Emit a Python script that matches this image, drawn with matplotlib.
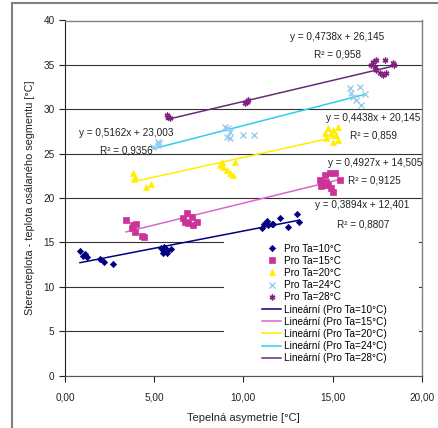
import numpy as np
import matplotlib as mpl
mpl.use('Agg')
import matplotlib.pyplot as plt
from matplotlib.lines import Line2D
from matplotlib.patches import Rectangle
from matplotlib.ticker import FuncFormatter, MultipleLocator

plt.rcParams['font.family'] = ['Liberation Sans', 'DejaVu Sans']
fs = 7.2

# ==== data ====
labels = ['Pro Ta=10°C', 'Pro Ta=15°C', 'Pro Ta=20°C', 'Pro Ta=24°C', 'Pro Ta=28°C']

x10 = [0.84, 1.12, 1.03, 1.25, 1.96, 2.20, 2.71, 5.36, 5.56, 5.70, 5.47, 5.73, 5.92, 5.60, 5.50,
       11.02, 11.17, 11.30, 11.39, 11.58, 11.67, 12.04, 12.51, 13.01, 13.12]
y10 = [14.04, 13.67, 13.48, 13.33, 13.10, 12.84, 12.58, 14.35, 14.46, 14.15, 13.85, 13.85, 14.23, 14.00, 14.20,
       16.67, 17.08, 17.46, 16.97, 17.08, 17.05, 17.80, 16.71, 18.17, 17.27]

x15 = [3.42, 3.83, 3.98, 3.74, 3.92, 4.29, 4.43, 6.63, 6.82, 7.10, 7.38, 7.19, 6.91, 6.72,
       14.29, 14.47, 14.57, 14.66, 14.75, 14.85, 14.94, 15.13, 15.41, 14.38, 15.03]
y15 = [17.53, 16.97, 17.08, 16.60, 16.15, 15.73, 15.66, 17.72, 18.29, 17.90, 17.34, 16.97, 17.16, 17.34,
       22.04, 21.48, 22.60, 21.85, 21.48, 22.79, 21.10, 22.80, 22.04, 21.36, 20.72]

x20 = [3.83, 3.92, 3.88, 4.54, 4.82, 8.68, 8.78, 8.87, 9.06, 9.24, 9.43, 9.52,
       14.57, 14.66, 14.75, 14.94, 15.03, 15.03, 15.22, 15.31, 15.31]
y20 = [22.79, 22.41, 22.10, 21.21, 21.55, 23.73, 24.10, 23.54, 23.16, 22.79, 22.60, 24.10,
       27.30, 26.73, 27.86, 27.30, 27.67, 26.35, 27.10, 28.04, 26.54]

x24 = [4.95, 5.20, 5.23, 5.25, 8.96, 9.15, 9.24, 9.06, 9.24, 9.99, 10.60,
       15.97, 16.53, 16.06, 16.15, 16.34, 16.62, 16.80]
y24 = [25.75, 25.95, 26.35, 26.15, 28.04, 27.86, 27.48, 26.91, 26.80, 27.05, 27.10,
       32.36, 32.54, 31.80, 31.42, 31.05, 30.48, 31.70]

x28 = [5.70, 5.88, 5.75, 10.08, 10.18, 10.27, 17.18, 17.27, 17.37, 17.46, 17.46, 17.65, 17.83, 17.93, 18.02, 18.39, 18.45]
y28 = [29.36, 28.98, 29.15, 30.67, 30.86, 31.05, 34.99, 35.36, 34.80, 35.55, 34.43, 34.05, 33.86, 35.55, 34.05, 35.18, 34.95]

# trendline coefficients as printed on the chart
slopes = [0.3894, 0.4927, 0.4438, 0.5162, 0.4738]
intercepts = [12.401, 14.505, 20.145, 23.003, 26.145]
eq_text = ['y = 0,3894x + 12,401', 'y = 0,4927x + 14,505', 'y = 0,4438x + 20,145',
           'y = 0,5162x + 23,003', 'y = 0,4738x + 26,145']
r2_text = ['R² = 0,8807', 'R² = 0,9125', 'R² = 0,859', 'R² = 0,9356', 'R² = 0,958']
# label positions (data coords)
eq_pos = [(16.67, 19.22), (17.37, 23.95), (17.28, 29.0), (3.45, 27.37), (15.28, 38.14)]
r2_pos = [(16.72, 17.08), (17.37, 21.93), (17.28, 27.0), (3.45, 25.4), (15.28, 36.2)]

xs = [x10, x15, x20, x24, x28]
ys = [y10, y15, y20, y24, y28]

mcol = ['#000080', '#CC3399', '#FFEE00', '#99CCEE', '#802080']
lcol = ['#000080', '#DD66CC', '#FFEE00', '#33CCEE', '#6A2A7A']
marks = ['D', 's', '^', 'x', (6, 2, 0)]
msize = [3.2, 3.8, 4.2, 3.8, 4.2]

# ==== plot ====
fig = plt.figure(figsize=(4.39, 4.28), dpi=100)
ax = fig.add_axes([65/439, 1-375.7/428, 356.7/439, 355.2/428])

for i in range(5):
  ax.plot(xs[i], ys[i], linestyle='none', marker=marks[i], markersize=msize[i],
          color=mcol[i], markeredgewidth=1.0 if i >= 3 else 0.5, label=labels[i], zorder=3)

for i in range(5):
  xl = np.array([min(xs[i]), max(xs[i])])
  ax.plot(xl, slopes[i]*xl + intercepts[i], color=lcol[i], lw=1.1,
          label='Lineární (' + labels[i] + ')', zorder=2)

for i in range(5):
  ax.text(eq_pos[i][0], eq_pos[i][1], eq_text[i], fontsize=fs, ha='center', va='center', color='#222222')
  ax.text(r2_pos[i][0], r2_pos[i][1], r2_text[i], fontsize=fs, ha='center', va='center', color='#222222')

ax.set_xlim(0, 20)
ax.set_ylim(0, 40)
ax.xaxis.set_major_locator(MultipleLocator(5))
ax.yaxis.set_major_locator(MultipleLocator(5))
ax.xaxis.set_major_formatter(FuncFormatter(lambda v, p: ('%.2f' % v).replace('.', ',')))
ax.tick_params(labelsize=fs, colors='#222222', length=4, width=0.8, direction='out')
ax.tick_params(axis='x', pad=8)
ax.set_axisbelow(True)
ax.grid(axis='y', color='#333333', lw=0.8)

for s in ['top', 'right']:
  ax.spines[s].set_color('#808080')
  ax.spines[s].set_linewidth(1.0)
ax.spines['left'].set_color('#222222')
ax.spines['bottom'].set_color('#555555')
ax.spines['left'].set_linewidth(0.8)
ax.spines['bottom'].set_linewidth(0.8)

ax.set_xlabel('Tepelná asymetrie [°C]', fontsize=8, color='#222222', labelpad=8)
ax.set_ylabel('Stereoteplota - teplota osálaného segmentu [°C]', fontsize=7.8, color='#222222', labelpad=6)

# white legend area covering the gridlines
ax.add_patch(Rectangle((0.446, 0.027), 0.546, 0.358, transform=ax.transAxes,
                       facecolor='white', edgecolor='none', zorder=1))
leg = ax.legend(loc='upper left', bbox_to_anchor=(0.553, 0.372), frameon=False, fontsize=fs,
                borderpad=0, handlelength=1.9, handletextpad=0.25, labelspacing=0.22,
                borderaxespad=0)

# outer chart frame
fig.add_artist(Line2D([12/439, 12/439], [0, 1-3/428], color='#808080', lw=1.5))
fig.add_artist(Line2D([12/439, 1], [1-3/428, 1-3/428], color='#808080', lw=1.5))

fig.savefig('out.png', dpi=100)
